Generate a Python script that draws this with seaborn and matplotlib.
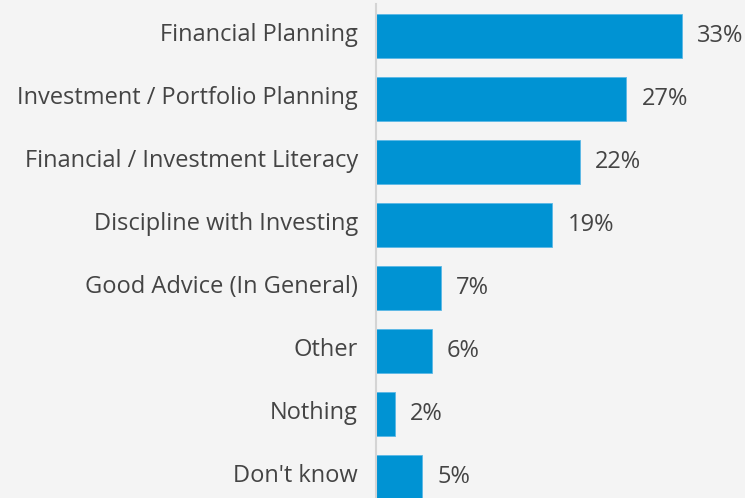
import pandas as pd
import matplotlib.pyplot as plt
import matplotlib.transforms as mtransforms
import seaborn as sns

categories = ["Financial Planning", "Investment / Portfolio Planning",
              "Financial / Investment Literacy", "Discipline with Investing",
              "Good Advice (In General)", "Other", "Nothing", "Don't know"]
values = [33, 27, 22, 19, 7, 6, 2, 5]

df = pd.DataFrame({"category": categories, "value": values})

sns.set_style("white")
plt.rcParams['font.family'] = ['Open Sans', 'DejaVu Sans']

fig = plt.figure(figsize=(7.45, 4.98), dpi=100, facecolor="#f4f4f4")
ax = fig.add_axes([376 / 745, 0, 369 / 745, 493.5 / 498])
ax.set_facecolor("#f4f4f4")

sns.barplot(data=df, x="value", y="category", orient="h", color="#0093d3",
            saturation=1, width=0.7, edgecolor="#5ab8e6", linewidth=0.6, ax=ax)

ax.bar_label(ax.containers[0], labels=[f"{v}%" for v in values], padding=11,
             fontsize=17, color="#444444")

ax.set_xlim(0, 39.8)
ax.set_ylim(7.333, -0.5)
ax.set_xlabel("")
ax.set_ylabel("")
ax.set_xticks([])
ax.tick_params(axis="y", length=0, pad=13, labelsize=17, labelcolor="#444444")
# labels sit a little above the bar centre in the original
shift = mtransforms.ScaledTranslation(0, 4 / 100, fig.dpi_scale_trans)
for lab in ax.get_yticklabels():
    lab.set_transform(lab.get_transform() + shift)
for s in ["top", "right", "bottom"]:
    ax.spines[s].set_visible(False)
ax.spines["left"].set_color("#d4d4d4")
ax.spines["left"].set_linewidth(1.5)

fig.savefig("out.png", dpi=100, facecolor=fig.get_facecolor())
